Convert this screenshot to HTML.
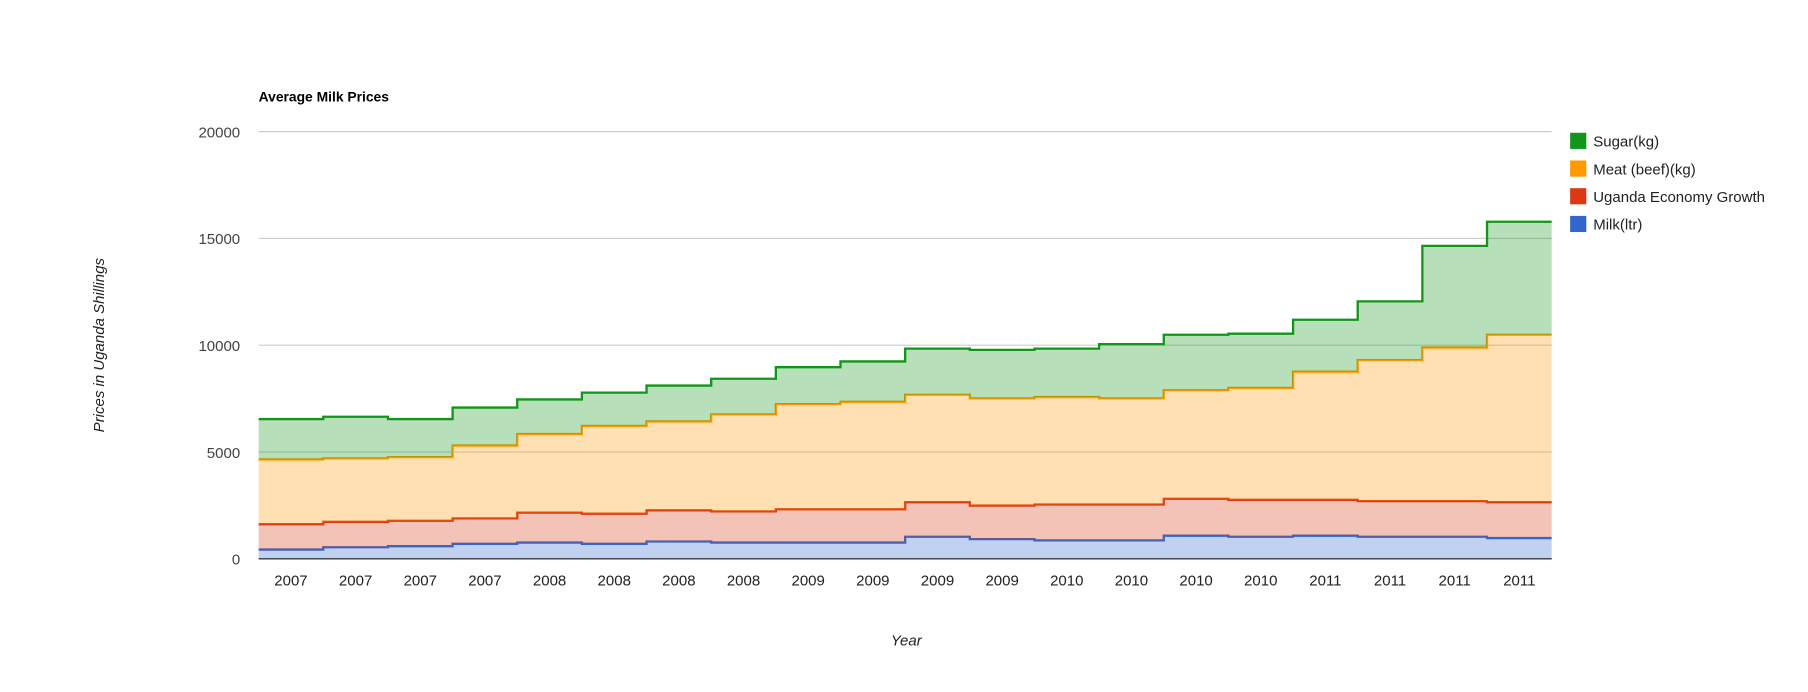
<!DOCTYPE html>
<html><head><meta charset="utf-8"><style>
body{margin:0;background:#fff;font-family:"Liberation Sans",Arial,sans-serif}
svg{display:block}
</style></head><body>
<svg id="chart" width="1808" height="692" viewBox="0 0 1566 599.4" xmlns="http://www.w3.org/2000/svg" font-family="Liberation Sans, Arial, sans-serif">
<text x="224" y="88" font-size="12" font-weight="bold" fill="#000">Average Milk Prices</text>
<g id="grid"></g>
<g id="areas"></g>
<g id="xlabels"></g>
<text x="785" y="559" font-size="13" font-style="italic" fill="#222" text-anchor="middle">Year</text>
<text transform="translate(90,299) rotate(-90)" font-size="13" font-style="italic" fill="#222" text-anchor="middle">Prices in Uganda Shillings</text>
<g id="legend"></g>
</svg>
<script>
const categories=["2007","2007","2007","2007","2008","2008","2008","2008","2009","2009","2009","2009","2010","2010","2010","2010","2011","2011","2011","2011"];
const milk=[430,540,590,700,760,700,810,760,760,760,1030,920,860,860,1080,1030,1080,1030,1030,970];
const economy=[1190,1190,1190,1190,1400,1410,1460,1460,1560,1560,1620,1570,1680,1680,1730,1730,1680,1670,1670,1680];
const meat=[3030,2970,2980,3410,3680,4110,4160,4540,4920,5030,5030,5020,5030,4970,5080,5240,6000,6600,7190,7840];
const sugar=[1890,1950,1780,1780,1620,1560,1680,1670,1730,1890,2160,2270,2270,2540,2600,2540,2430,2750,4760,5290];
const yTicks=[0,5000,10000,15000,20000];
const seriesNames=["Milk(ltr)","Uganda Economy Growth","Meat (beef)(kg)","Sugar(kg)"];
const NS="http://www.w3.org/2000/svg";
const X0=224,X1=1344,Y0=484,Y1=114,YMAX=20000;
const y=v=>Y0-(v/YMAX)*(Y0-Y1);
const step=(X1-X0)/categories.length;
const x=i=>X0+i*step;
function mk(tag,attrs,parent){const e=document.createElementNS(NS,tag);for(const k in attrs)e.setAttribute(k,attrs[k]);parent.appendChild(e);return e;}
const grid=document.getElementById('grid');
yTicks.forEach(t=>{
  const l=mk('line',{x1:X0,x2:X1,y1:y(t),y2:y(t),stroke:t===0?'#333':'#ccc','stroke-width':1},grid);
  
  
  const tx=mk('text',{x:208,y:y(t)+5,'font-size':13,fill:'#444','text-anchor':'end'},grid);
  
  
  tx.textContent=t;
});
const series=[milk,economy,meat,sugar];
const cols=["#3366cc","#dc3912","#ff9900","#109618"];
const areas=document.getElementById('areas');
let base=categories.map(()=>0);
series.forEach((s,si)=>{
  const top=base.map((b,i)=>b+s[i]);
  let up="",down="";
  top.forEach((v,i)=>{up+=(i===0?"M":"L")+x(i)+","+y(v)+"L"+x(i+1)+","+y(v);});
  for(let i=base.length-1;i>=0;i--){down+="L"+x(i+1)+","+y(base[i])+"L"+x(i)+","+y(base[i]);}
  const a=mk('path',{d:up+down+"Z",fill:cols[si],'fill-opacity':0.3,stroke:'none'},areas);
  
  
  const ln=mk('path',{d:up,fill:'none',stroke:cols[si],'stroke-width':2},areas);
  
  
  base=top;
});
mk('line',{x1:X0,x2:X1,y1:Y0,y2:Y0,stroke:'#333','stroke-width':1},areas);
const xl=document.getElementById('xlabels');
categories.forEach((c,i)=>{
  const t=mk('text',{x:x(i)+step/2,y:507,'font-size':13,fill:'#222','text-anchor':'middle'},xl);
  
  
  t.textContent=c;
});
const lg=document.getElementById('legend');
[3,2,1,0].forEach((si,k)=>{
  const g=mk('g',{},lg);
  
  
  mk('rect',{x:1360,y:115+k*24,width:14,height:14,fill:cols[si]},g);
  const t=mk('text',{x:1380,y:127+k*24,'font-size':13,fill:'#222'},g);
  t.textContent=seriesNames[si];
});
</script>
</body></html>
